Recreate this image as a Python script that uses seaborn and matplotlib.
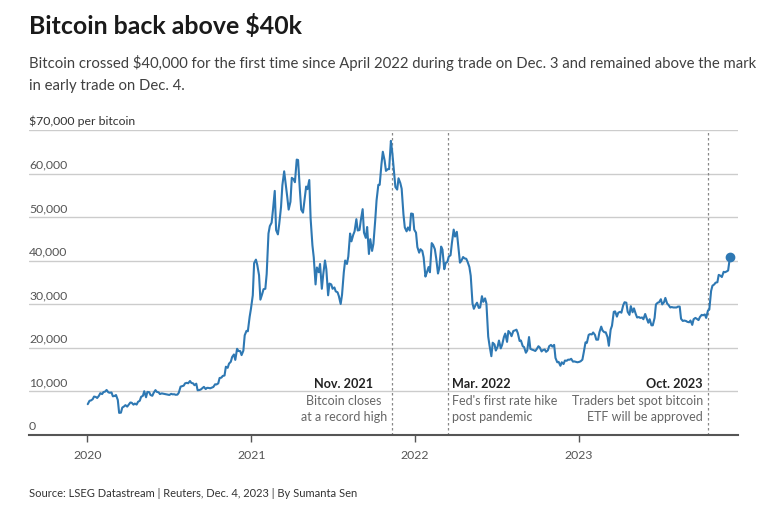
import pandas as pd
import numpy as np
import matplotlib
matplotlib.use("Agg")
import matplotlib.pyplot as plt
import matplotlib.transforms as mtransforms
import seaborn as sns

# Closes, twice a week (Mondays and Thursdays)
mon_2020 = [7760, 8110, 8630, 8910, 9290, 9880, 9690, 9660, 8870, 7940, 5020, 6460,
            6410, 7350, 6860, 6880, 7760, 8890, 8560, 9730, 8900, 10200, 9700, 9450, 9300,
            9190, 9350, 9250, 9165, 11000, 11230, 11880, 12300, 11750, 11680, 10230, 10680,
            10450, 10700, 10790, 11540, 11750, 13070, 13560, 15320, 16720, 18400, 19700,
            19170, 19270, 23830, 27040]
thu_2020 = [6970, 7820, 8720, 8390, 9500, 9750, 10240, 9600, 8780, 9080, 4970, 6190, 6750,
            6810, 7300, 7110, 7500, 8660, 9950, 9790, 9080, 9580, 9800, 9300, 9390, 9250,
            9090, 9240, 9130, 9600, 11110, 11760, 11780, 11860, 11330, 10170, 10340, 10950,
            10730, 10620, 10920, 11500, 12990, 13460, 15580, 16290, 17820, 17150, 19200,
            18250, 22800, 23730, 28950]
mon_2021 = [32000, 40200, 36600, 32300, 33500, 46200, 48700, 56000, 46000, 52300, 60500,
            54500, 53500, 58700, 63200, 56200, 51000, 57000, 58500, 43500, 34500, 37300,
            33500, 40000, 32000, 34500, 33800, 32700, 30000, 37300, 39200, 46200, 45900,
            49500, 47000, 51800, 45200, 41500, 42200, 49200, 57400, 62200, 63000, 61000,
            67500, 60300, 56300, 57800, 50600, 46700, 46900, 50700]
thu_2021 = [39400, 39000, 31000, 33400, 36900, 47900, 51600, 47000, 48400, 57300, 58000,
            51700, 59000, 58000, 63100, 51700, 53600, 56400, 49600, 40700, 38400, 39200,
            36700, 38000, 34700, 33500, 32900, 31800, 32100, 40000, 40900, 44400, 46700,
            46900, 49300, 46400, 47700, 44900, 43800, 53800, 57400, 65000, 60600, 61000,
            64900, 56900, 58900, 56500, 47600, 47600, 50800, 47100]
mon_2022 = [46400, 41800, 42200, 36300, 38500, 44000, 42600, 37000, 43200, 38000, 39700,
            41200, 47100, 46600, 39500, 40800, 40400, 38500, 30100, 29800, 29100, 31800,
            31300, 22500, 18000, 20700, 20200, 19800, 22400, 21300, 23300, 23800, 24100,
            21500, 20300, 18800, 22400, 19500, 19200, 20300, 19100, 19550, 19350, 20600,
            20600, 16600, 15800, 16200, 16950, 17200, 16750, 16700]
thu_2022 = [43100, 42600, 40700, 37200, 37300, 43600, 40500, 38300, 42500, 39400, 40900,
            44000, 45500, 43500, 39900, 40500, 39700, 36500, 28900, 30300, 29200, 30500,
            30100, 20400, 21100, 19300, 21600, 20600, 23200, 23800, 22600, 23900, 23300,
            21600, 20100, 19300, 19700, 19400, 19600, 20000, 19400, 19000, 20300, 20200,
            17600, 16700, 16600, 17000, 17200, 17400, 16800, 16600]
mon_2023 = [16700, 17200, 21200, 22900, 23000, 22900, 21800, 24800, 23500, 22400, 24100,
            28200, 27100, 28200, 29700, 30300, 27500, 28100, 27700, 27000, 26900, 27700,
            25700, 25100, 26800, 30300, 31100, 30400, 30100, 29200, 29200, 29200, 29400,
            26100, 26100, 25800, 25200, 26800, 26300, 27500, 27600, 28500, 33000, 34500,
            35000, 36500, 37400, 37500, 40800]
thu_2023 = [16830, 18850, 21070, 23080, 23450, 21800, 23500, 23900, 23500, 20400, 25000,
            28300, 28000, 28000, 30400, 28200, 29500, 29000, 26900, 26800, 26500, 26800,
            26500, 25100, 29900, 30400, 29900, 31400, 29800, 29300, 29200, 29400, 26600,
            26200, 25900, 26200, 26500, 26600, 27000, 27400, 26800, 28700, 34200, 34900,
            36700, 36200, 37300, 37700]

year_ticks = ["2020", "2021", "2022", "2023"]
y_ticks = [0, 10000, 20000, 30000, 40000, 50000, 60000, 70000]
y_labels = ["0", "10,000", "20,000", "30,000", "40,000", "50,000", "60,000", "$70,000 per bitcoin"]

event_dates = ["2021-11-10", "2022-03-16", "2023-10-16"]
event_titles = ["Nov. 2021", "Mar. 2022", "Oct. 2023"]
event_lines = [["Bitcoin closes", "at a record high"],
               ["Fed's first rate hike", "post pandemic"],
               ["Traders bet spot bitcoin", "ETF will be approved"]]

mondays = pd.date_range("2020-01-06", "2023-12-04", freq="W-MON")
thursdays = pd.date_range("2020-01-02", "2023-11-30", freq="W-THU")
df = pd.concat([
    pd.DataFrame({"date": mondays, "price": mon_2020 + mon_2021 + mon_2022 + mon_2023}),
    pd.DataFrame({"date": thursdays, "price": thu_2020 + thu_2021 + thu_2022 + thu_2023}),
]).sort_values("date").reset_index(drop=True)

BLUE = "#2e78b3"

sns.set_theme(style="white")
plt.rcParams['font.family'] = ['Lato', 'DejaVu Sans']

fig = plt.figure(figsize=(7.64, 5.05), dpi=100)
ax = fig.add_axes([29 / 764, 70.5 / 505, 709 / 764, 304.5 / 505])

sns.lineplot(data=df, x="date", y="price", color=BLUE, linewidth=1.5, ax=ax, zorder=3)
last = df.iloc[-1]
ax.scatter([last["date"]], [last["price"]], s=36, color=BLUE, zorder=4)

ax.set_xlim(pd.Timestamp("2019-08-24"), pd.Timestamp("2023-12-22"))
ax.set_ylim(0, 70000)

# grid + y labels sitting on top of the gridlines
ax.set_yticks(y_ticks)
ax.set_yticklabels([])
ax.tick_params(axis="y", length=0)
ax.yaxis.grid(True, color="#cccccc", linewidth=1)
trans = mtransforms.blended_transform_factory(ax.transAxes, ax.transData)
for v, lab in zip(y_ticks, y_labels):
    ax.annotate(lab, xy=(0, v), xycoords=trans, xytext=(0, 3.5), textcoords="offset points",
                ha="left", va="baseline", fontsize=8.8,
                color="#555555" if v < 70000 else "#333333")

ax.set_xticks([pd.Timestamp(y + "-01-01") for y in year_ticks])
ax.set_xticklabels(year_ticks)
ax.tick_params(axis="x", direction="out", length=5, width=1, color="#555555",
               labelcolor="#555555", labelsize=8.8, pad=6, bottom=True)
ax.set_xlabel("")
ax.set_ylabel("")

for s in ["top", "left", "right"]:
    ax.spines[s].set_visible(False)
ax.spines["bottom"].set_color("#555555")
ax.spines["bottom"].set_linewidth(1.5)

# event markers
ha_list = ["center", "left", "right"]
dx_list = [-34.5, 3, -3.5]
for d, t, lines, ha, dx in zip(event_dates, event_titles, event_lines, ha_list, dx_list):
    d = pd.Timestamp(d)
    ax.axvline(d, color="#888888", linewidth=0.9, linestyle=(0, (2, 2)), zorder=2)
    ax.annotate(t, xy=(d, 10700), xytext=(dx, 0), textcoords="offset points",
                ha=ha, va="baseline", fontsize=9.1, fontweight="bold", color="#222222")
    ax.annotate(lines[0], xy=(d, 6800), xytext=(dx, 0), textcoords="offset points",
                ha=ha, va="baseline", fontsize=9.0, color="#666666")
    ax.annotate(lines[1], xy=(d, 3100), xytext=(dx, 0), textcoords="offset points",
                ha=ha, va="baseline", fontsize=9.0, color="#666666")

fig.text(29 / 764, 1 - 34 / 505, "Bitcoin back above $40k", fontsize=17.9, fontweight="bold",
         color="#1a1a1a", va="baseline")
fig.text(29 / 764, 1 - 68 / 505, "Bitcoin crossed $40,000 for the first time since April 2022 "
         "during trade on Dec. 3 and remained above the mark", fontsize=10.75, color="#404040",
         va="baseline")
fig.text(29 / 764, 1 - 90 / 505, "in early trade on Dec. 4.", fontsize=10.75, color="#404040",
         va="baseline")
fig.text(29 / 764, 1 - 497 / 505, "Source: LSEG Datastream | Reuters, Dec. 4, 2023 | By Sumanta Sen",
         fontsize=8.0, color="#333333", va="baseline")

fig.savefig("out.png", dpi=100, facecolor="white")
